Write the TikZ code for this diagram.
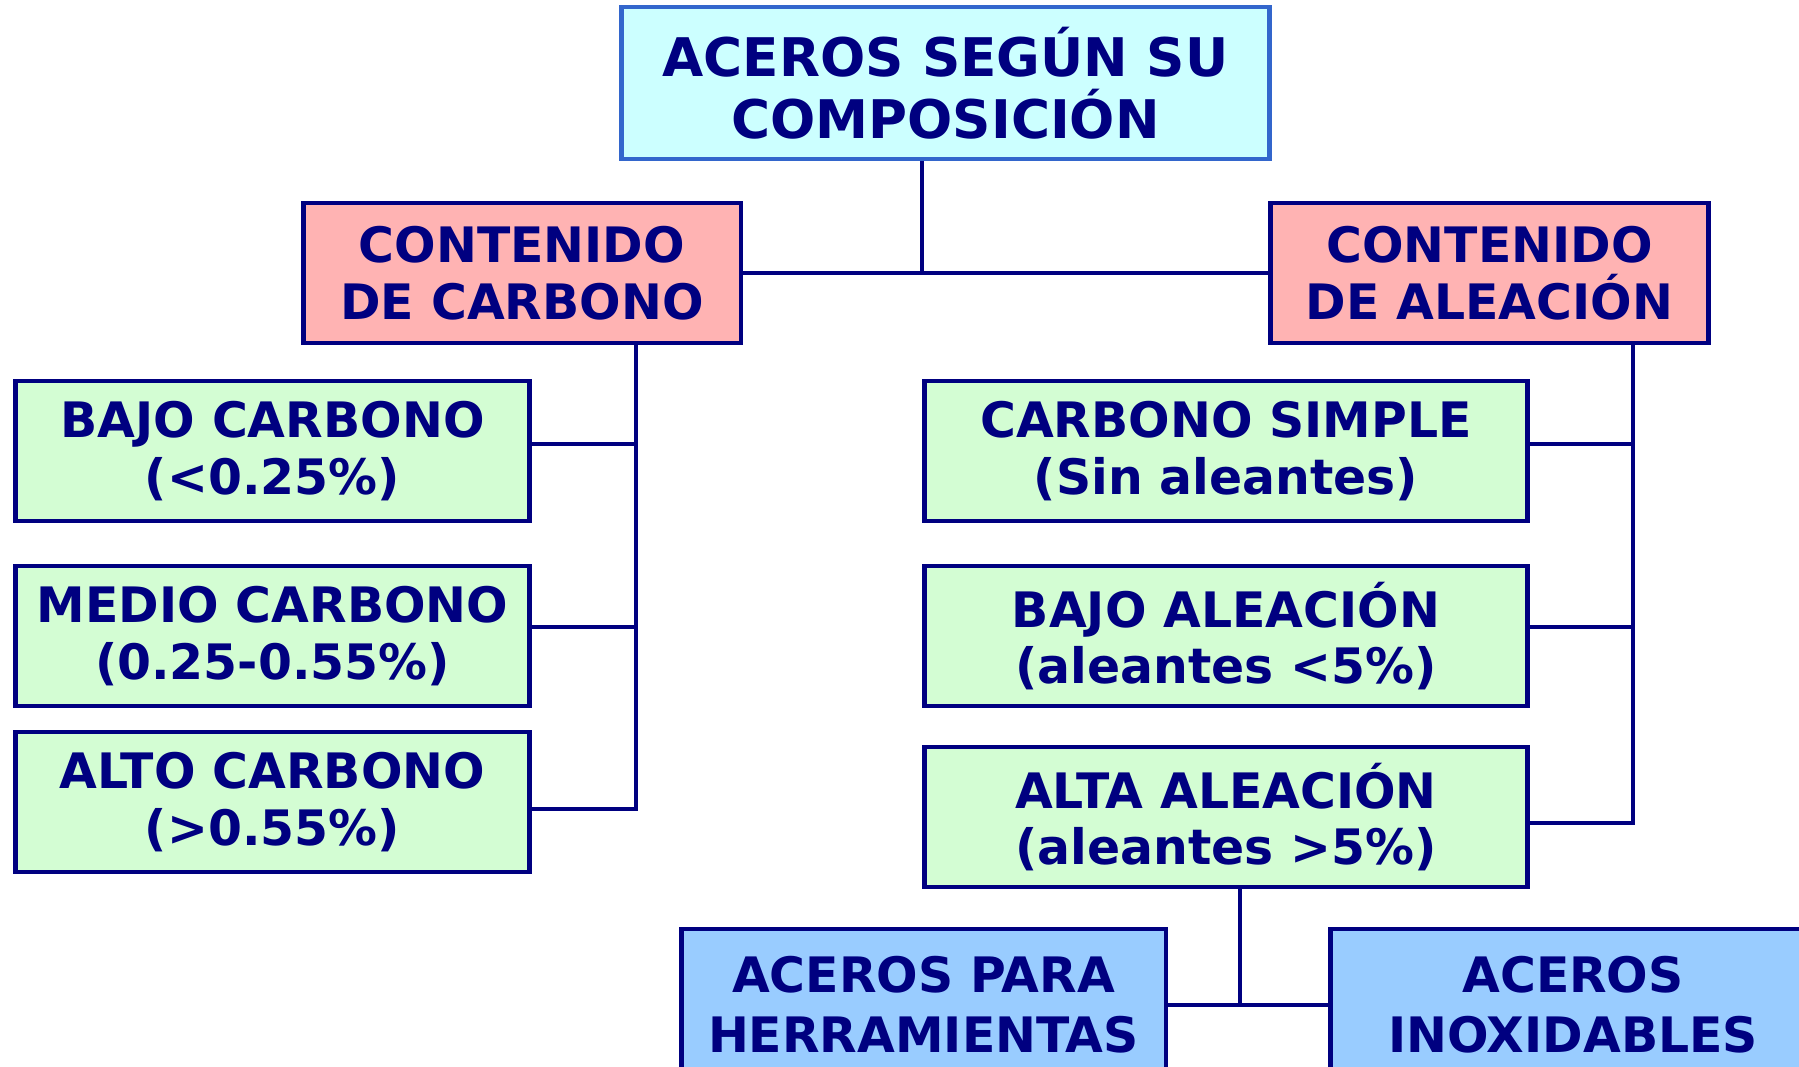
\documentclass[tikz,border=0pt]{standalone}
\usepackage{fontspec}
\setmainfont{DejaVu Sans}
\definecolor{navy}{HTML}{000080}
\definecolor{topline}{HTML}{3366CC}
\definecolor{topfill}{HTML}{CCFFFF}
\definecolor{pinkfill}{HTML}{FFB3B3}
\definecolor{greenfill}{HTML}{D3FDD3}
\definecolor{bluefill}{HTML}{99CCFF}
\tikzset{
  box/.style={draw=navy, line width=2.8pt, text=navy, align=center, inner sep=0pt,
    font=\fontsize{27.8}{32.2}\selectfont\bfseries},
  topbox/.style={box, draw=topline, fill=topfill, minimum width=12.98cm, minimum height=3.04cm,
    font=\fontsize{30.3}{35.5}\selectfont\bfseries},
  groupbox/.style={box, fill=pinkfill, minimum width=8.76cm, minimum height=2.8cm},
  kindbox/.style={box, fill=greenfill, minimum height=2.8cm},
  usebox/.style={box, fill=bluefill, minimum width=9.7cm, minimum height=3.04cm,
    font=\fontsize{27.8}{34}\selectfont\bfseries},
  link/.style={draw=navy, line width=2.8pt}
}
\begin{document}
\begin{tikzpicture}[x=0.02cm,y=-0.02cm]
\path[use as bounding box, clip] (0,0) rectangle (1799,1067);
\node[topbox] (top) at (945.5,83) {ACEROS SEGÚN SU\\COMPOSICIÓN};
\node[groupbox] (cc) at (522,273) {CONTENIDO\\DE CARBONO};
\node[groupbox] (ca) at (1489.5,273) {CONTENIDO\\DE ALEACIÓN};
% contenido de carbono
\node[kindbox, minimum width=10.3cm] (bc) at (272.5,451) {BAJO CARBONO\\(<0.25\%)};
\node[kindbox, minimum width=10.3cm] (mc) at (272.5,636) {MEDIO CARBONO\\(0.25-0.55\%)};
\node[kindbox, minimum width=10.3cm] (ac) at (272.5,802) {ALTO CARBONO\\(>0.55\%)};
% contenido de aleacion
\node[kindbox, minimum width=12.08cm] (cs) at (1226,451) {CARBONO SIMPLE\\(Sin aleantes)};
\node[kindbox, minimum width=12.08cm] (ba) at (1226,636) {BAJO ALEACIÓN\\(aleantes <5\%)};
\node[kindbox, minimum width=12.08cm] (aa) at (1226,817) {ALTA ALEACIÓN\\(aleantes >5\%)};
\node[usebox] (ah) at (923.5,1005) {ACEROS PARA\\HERRAMIENTAS};
\node[usebox] (ai) at (1573,1005) {ACEROS\\INOXIDABLES};
\coordinate (j1) at (922,273);
\coordinate (j2) at (636,0);
\coordinate (j3) at (1633,0);
\coordinate (j4) at (1240,1005);
\draw[link] (top.south -| j1) -- (j1);
\draw[link] (cc) -- (ca);
\draw[link] (cc.south -| j2) -- ([yshift=-0.14cm]ac.east -| j2) -- ([yshift=-0.14cm]ac.east);
\draw[link] ([yshift=0.14cm]bc.east) -- ([yshift=0.14cm]bc.east -| j2);
\draw[link] ([yshift=0.18cm]mc.east) -- ([yshift=0.18cm]mc.east -| j2);
\draw[link] (ca.south -| j3) -- ([yshift=-0.12cm]aa.east -| j3) -- ([yshift=-0.12cm]aa.east);
\draw[link] ([yshift=0.14cm]cs.east) -- ([yshift=0.14cm]cs.east -| j3);
\draw[link] ([yshift=0.18cm]ba.east) -- ([yshift=0.18cm]ba.east -| j3);
\draw[link] (aa.south -| j4) -- (j4);
\draw[link] (ah) -- (ai);
\end{tikzpicture}
\end{document}
